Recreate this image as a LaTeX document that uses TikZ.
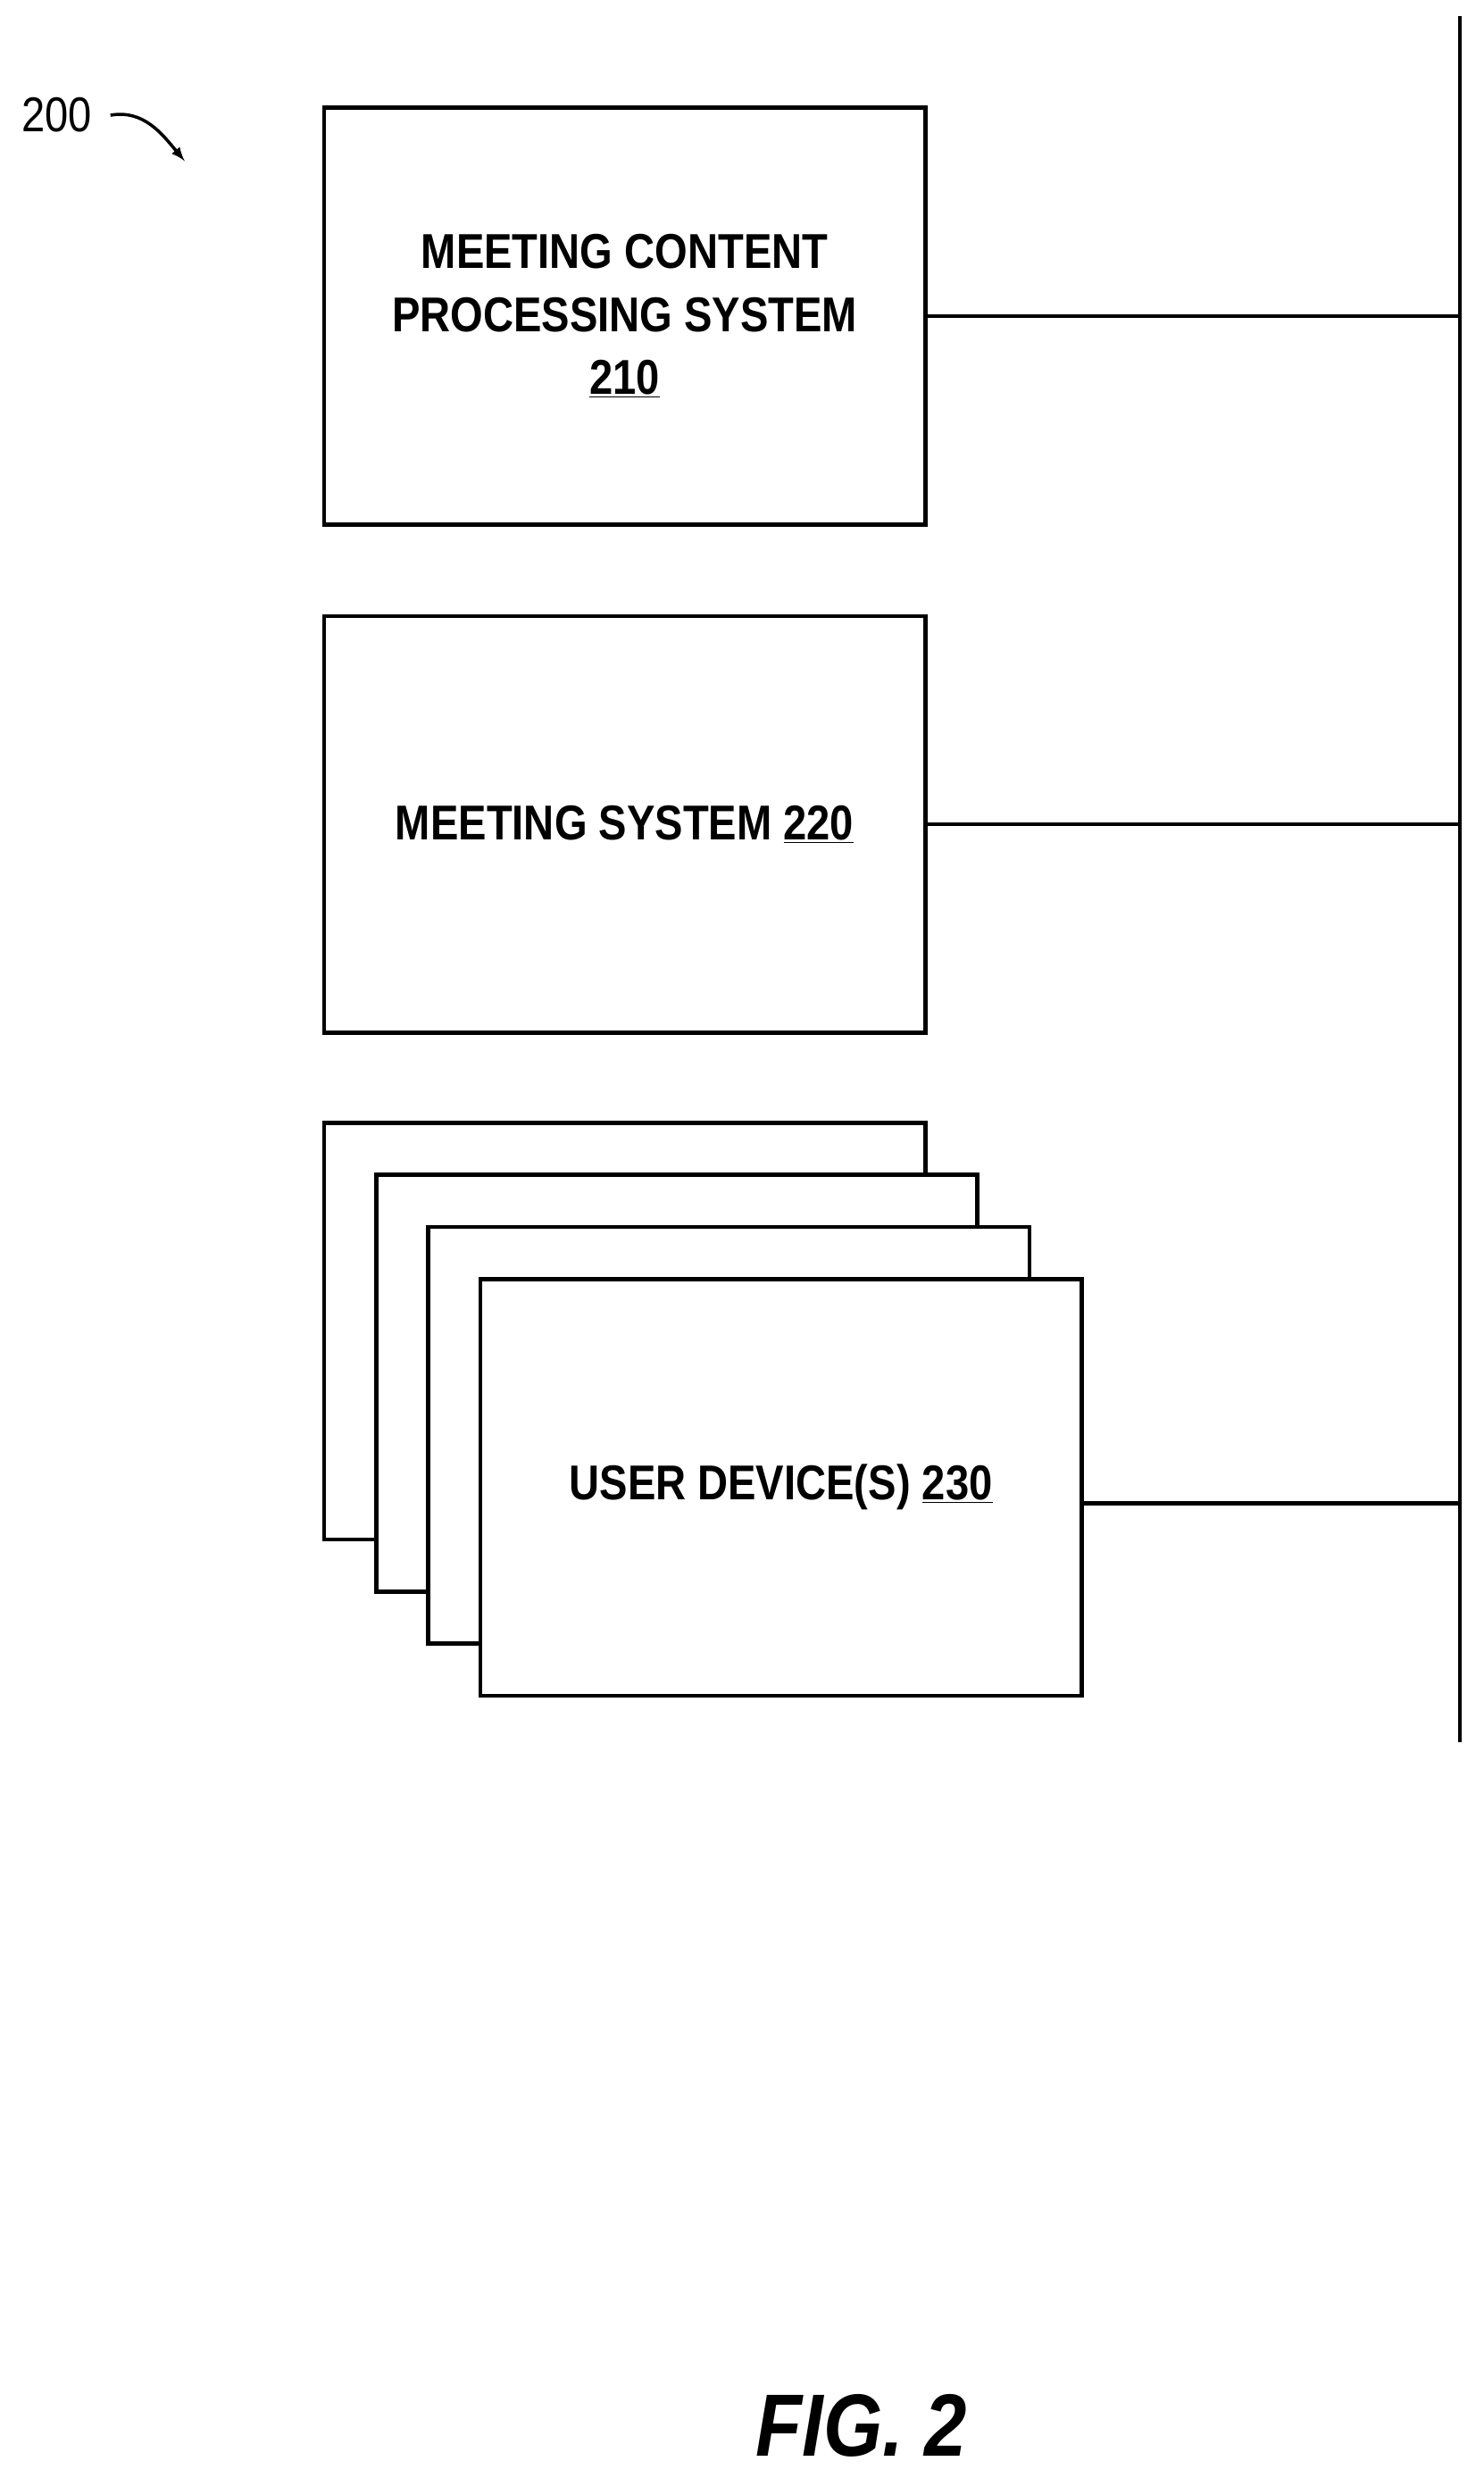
\documentclass[tikz,border=0pt]{standalone}
\usepackage{fontspec}
\setmainfont{Liberation Sans}[FakeStretch=0.86]
\usetikzlibrary{positioning}
\tikzset{
    blockbox/.style={draw, line width=2.6pt, minimum width=381pt, minimum height=264pt, fill=white, align=center, font=\bfseries\fontsize{31}{40}\selectfont},
    wire/.style={line width=2.6pt},
}
\begin{document}
\begin{tikzpicture}[x=1pt, y=-1pt]
    \useasboundingbox (0, 0) rectangle (940, 1570);

    % Reference label
    \node[font=\fontsize{31}{34}\selectfont] (ref) at (36, 73) {200};
    \draw[wire, line width=2pt, -latex] (70, 73) to[out=10, in=130] (117, 102);

    % Bus
    \coordinate (bustop) at (925, 10);
    \coordinate (busbot) at (925, 1104);
    \draw[wire] (bustop) -- (busbot);

    % Blocks
    \node[blockbox, anchor=north west] (mcps) at (204, 67) {MEETING CONTENT\\PROCESSING SYSTEM\\\underline{210}};
    \node[blockbox, anchor=north west] (ms) at (204, 389) {MEETING SYSTEM \underline{220}};

    % Stacked user devices
    \node[blockbox, anchor=north west] (ud3) at (204, 710) {};
    \node[blockbox, anchor=north west] (ud2) at (237, 743) {};
    \node[blockbox, anchor=north west] (ud1) at (270, 776) {};
    \node[blockbox, anchor=north west] (ud) at (303, 809) {\raisebox{6pt}{USER DEVICE(S) \underline{230}}};

    % Connectors
    \draw[wire] (mcps.east) -- (mcps.east -| bustop);
    \draw[wire] (ms.east) -- (ms.east -| bustop);
    \draw[wire] (ud.east) ++(0, 10) coordinate (udc) -- (udc -| bustop);

    \node[font=\bfseries\itshape\fontsize{56}{60}\selectfont] (fig) at (546, 1537) {FIG. 2};
\end{tikzpicture}
\end{document}
